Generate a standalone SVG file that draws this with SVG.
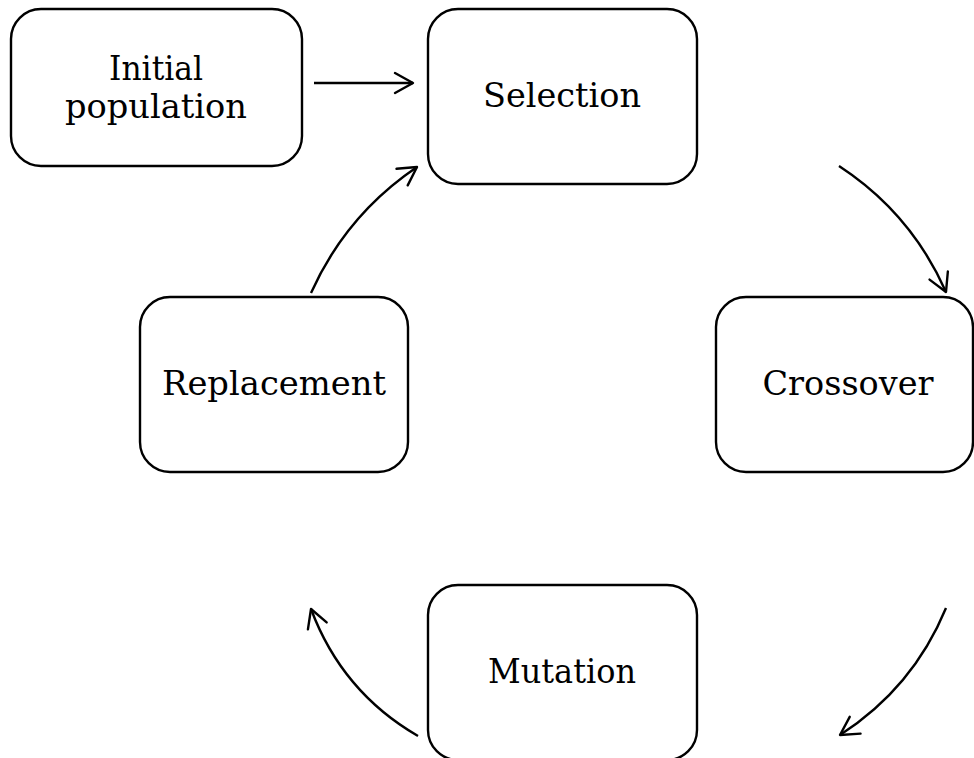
<svg xmlns="http://www.w3.org/2000/svg" width="974" height="758" viewBox="0 0 974 758">
<style>
.box{fill:#fff;stroke:#000;stroke-width:2.4}
.lbl{font-family:"DejaVu Serif","Liberation Serif",serif;font-size:33px;fill:#000;text-anchor:middle}
.conn{fill:none;stroke:#000;stroke-width:2.4;marker-end:url(#ah)}
</style>
<defs>
<marker id="ah" markerUnits="userSpaceOnUse" viewBox="-20 -12 22 24" refX="0" refY="0" markerWidth="22" markerHeight="24" orient="auto">
<path d="M-18,-10 L0,0 L-18,10" fill="none" stroke="#000" stroke-width="2.4" stroke-linecap="round" stroke-linejoin="round"/>
</marker>
</defs>
<rect width="974" height="758" fill="#fff"/>
<g id="node-initial">
<rect class="box" x="11" y="9" width="291" height="157" rx="30"/>
<text class="lbl" x="156" y="80" textLength="94" lengthAdjust="spacingAndGlyphs">Initial</text>
<text class="lbl" x="156" y="118" textLength="182" lengthAdjust="spacingAndGlyphs">population</text>
</g>
<g id="node-selection">
<rect class="box" x="428" y="9" width="269" height="175" rx="30"/>
<text class="lbl" x="562" y="107" textLength="158" lengthAdjust="spacingAndGlyphs">Selection</text>
</g>
<g id="node-replacement">
<rect class="box" x="140" y="297" width="268" height="175" rx="30"/>
<text class="lbl" x="274" y="395" textLength="224" lengthAdjust="spacingAndGlyphs">Replacement</text>
</g>
<g id="node-crossover">
<rect class="box" x="716" y="297" width="257" height="175" rx="30"/>
<text class="lbl" x="848" y="395" textLength="171" lengthAdjust="spacingAndGlyphs">Crossover</text>
</g>
<g id="node-mutation">
<rect class="box" x="428" y="585" width="269" height="175" rx="30"/>
<text class="lbl" x="562" y="683" textLength="148" lengthAdjust="spacingAndGlyphs">Mutation</text>
</g>
<g id="connectors">
<path class="conn" d="M314,83 L413,83"/>
<path class="conn" d="M311,293 Q346,215 417,167"/>
<path class="conn" d="M839,166 Q911,213 946,292"/>
<path class="conn" d="M946,608 Q913,688 840,735"/>
<path class="conn" d="M418,736 Q342,692 311,609"/>
</g>
</svg>
